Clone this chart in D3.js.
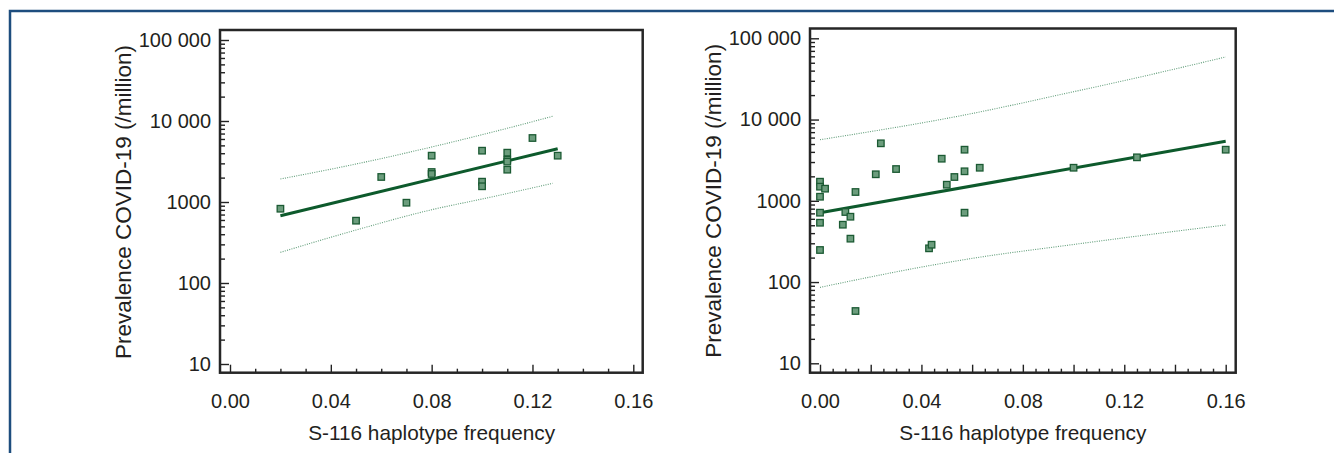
<!DOCTYPE html>
<html>
<head>
<meta charset="utf-8">
<script src="https://cdn.jsdelivr.net/npm/d3@7/dist/d3.min.js"></script>
<style>
  html, body { margin: 0; padding: 0; background: #fff; }
  svg { display: block; }
  text { font-family: "Liberation Sans", Arial, sans-serif; fill: #231f20; }
</style>
</head>
<body>
<svg id="chart" width="1334" height="453"></svg>
<script>
// ---------- DATA ----------
const xTickValues = [0, 0.04, 0.08, 0.12, 0.16];
const xTickLabels = ["0.00", "0.04", "0.08", "0.12", "0.16"];
const yTickValues = [10, 100, 1000, 10000, 100000];
const yTickLabels = ["10", "100", "1000", "10 000", "100 000"];
const xTitle = "S-116 haplotype frequency";
const yTitle = "Prevalence COVID-19 (/million)";

// left panel
const leftX = [0.02, 0.05, 0.06, 0.07, 0.08, 0.08, 0.08, 0.10, 0.10, 0.10, 0.11, 0.11, 0.11, 0.11, 0.12, 0.13];
const leftY = [826, 588, 2037, 980, 3733, 2345, 2218, 4300, 1782, 1563, 4064, 3326, 3150, 2506, 6166, 3733];
const leftFitX = [0.02, 0.13];
const leftFitY = [678, 4550];
const leftUpperX = [0.02, 0.05, 0.08, 0.11, 0.128];
const leftUpperY = [1923, 2945, 4775, 8130, 11430];
const leftLowerX = [0.02, 0.05, 0.08, 0.10, 0.128];
const leftLowerY = [239, 451, 803, 1089, 1702];

// right panel
const rightX = [0.024, 0.057, 0.048, 0.022, 0.030, 0.063, 0.057, 0.053, 0.050, 0.100, 0.125, 0.160,
                0, 0, 0.002, 0, 0.014, 0, 0.010, 0.012, 0, 0.009, 0.012, 0, 0.057, 0.043, 0.044, 0.014];
const rightY = [5100, 4256, 3297, 2120, 2460, 2552, 2307, 1963, 1578, 2552, 3428, 4256,
                1718, 1492, 1410, 1122, 1283, 714, 728, 637, 537, 508, 342, 248, 714, 260, 288, 44];
const rightFitX = [0, 0.16];
const rightFitY = [714, 5395];
const rightUpperX = [0, 0.057, 0.10, 0.125, 0.16];
const rightUpperY = [5650, 11380, 22000, 32700, 58900];
const rightLowerX = [0, 0.044, 0.057, 0.10, 0.125, 0.16];
const rightLowerY = [86, 161, 189, 290, 367, 504];

// ---------- LAYOUT ----------
const svg = d3.select("#chart");

// outer blue border (top + left)
svg.append("path")
  .attr("d", "M10,453 L10,11 L1334,11")
  .attr("fill", "none").attr("stroke", "#1d4d7e").attr("stroke-width", 2.5);

const panels = [
  { x: leftX, y: leftY, fitX: leftFitX, fitY: leftFitY, upX: leftUpperX, upY: leftUpperY, loX: leftLowerX, loY: leftLowerY,
    xr: [230, 633.3], yr: [364, 40], frame: { l: 220, r: 642.7, t: 30, b: 372.7 },
    xMinor: 0.01, xMid: null, titleX: 131 },
  { x: rightX, y: rightY, fitX: rightFitX, fitY: rightFitY, upX: rightUpperX, upY: rightUpperY, loX: rightLowerX, loY: rightLowerY,
    xr: [820, 1225.7], yr: [363.3, 38.3], frame: { l: 810, r: 1235.7, t: 28.5, b: 372.7 },
    xMinor: 0.005, xMid: 0.02, titleX: 721 }
];

panels.forEach(p => {
  const x = d3.scaleLinear().domain([0, 0.16]).range(p.xr);
  const y = d3.scaleLog().domain([10, 100000]).range(p.yr);
  const g = svg.append("g");
  const f = p.frame;

  // y minor ticks
  const yMinor = [];
  for (let d = 10; d < 100000; d *= 10) for (let k = 2; k <= 9; k++) yMinor.push(d * k);
  const yAxMinor = g.append("g").attr("transform", `translate(${f.l},0)`)
    .call(d3.axisLeft(y).tickValues(yMinor).tickSizeInner(-5).tickSizeOuter(0).tickFormat(""));
  const yAx = g.append("g").attr("transform", `translate(${f.l},0)`)
    .call(d3.axisLeft(y).tickValues(yTickValues).tickSizeInner(-9).tickSizeOuter(0).tickPadding(9)
      .tickFormat((d, i) => yTickLabels[i]));

  // x minor ticks
  const xMinorVals = d3.range(0, 0.1600001, p.xMinor).filter(v => Math.abs(v / 0.04 - Math.round(v / 0.04)) > 1e-6);
  const xMinorSmall = p.xMid ? xMinorVals.filter(v => Math.abs(v / p.xMid - Math.round(v / p.xMid)) > 1e-6) : xMinorVals;
  const xMidVals = p.xMid ? xMinorVals.filter(v => Math.abs(v / p.xMid - Math.round(v / p.xMid)) <= 1e-6) : [];
  const xAxMinor = g.append("g").attr("transform", `translate(0,${f.b})`)
    .call(d3.axisBottom(x).tickValues(xMinorSmall).tickSizeInner(-4).tickSizeOuter(0).tickFormat(""));
  const xAxMid = g.append("g").attr("transform", `translate(0,${f.b})`)
    .call(d3.axisBottom(x).tickValues(xMidVals).tickSizeInner(-8).tickSizeOuter(0).tickFormat(""));
  const xAx = g.append("g").attr("transform", `translate(0,${f.b})`)
    .call(d3.axisBottom(x).tickValues(xTickValues).tickSizeInner(-8).tickSizeOuter(0).tickPadding(21)
      .tickFormat((d, i) => xTickLabels[i]));

  [yAxMinor, yAx, xAxMinor, xAxMid, xAx].forEach(a => {
    a.select(".domain").remove();
    a.selectAll(".tick line").attr("stroke", "#222").attr("stroke-width", 1.4);
    a.selectAll(".tick text").style("font-family", '"Liberation Sans", Arial, sans-serif')
      .style("font-size", "20px").attr("fill", "#231f20");
  });

  // bands
  const lineGen = d3.line().x(d => x(d[0])).y(d => y(d[1])).curve(d3.curveMonotoneX);
  [[p.upX, p.upY], [p.loX, p.loY]].forEach(([bx, by]) => {
    g.append("path").datum(bx.map((v, i) => [v, by[i]]))
      .attr("d", lineGen).attr("fill", "none")
      .attr("stroke", "#5f9c78").attr("stroke-width", 1.1).attr("stroke-dasharray", "1,1.3");
  });

  // fit line
  g.append("path").datum(p.fitX.map((v, i) => [v, p.fitY[i]]))
    .attr("d", d3.line().x(d => x(d[0])).y(d => y(d[1])))
    .attr("fill", "none").attr("stroke", "#0d5a2c").attr("stroke-width", 3);

  // points
  const s = 6.5;
  g.selectAll("rect.pt").data(p.x.map((v, i) => [v, p.y[i]])).enter().append("rect")
    .attr("class", "pt")
    .attr("x", d => x(d[0]) - s / 2).attr("y", d => y(d[1]) - s / 2)
    .attr("width", s).attr("height", s)
    .attr("fill", "#6c9d7d").attr("stroke", "#1b5a33").attr("stroke-width", 1.3);

  // frame
  g.append("rect").attr("x", f.l).attr("y", f.t).attr("width", f.r - f.l).attr("height", f.b - f.t)
    .attr("fill", "none").attr("stroke", "#262626").attr("stroke-width", 2.5);

  // titles
  g.append("text").attr("x", (p.xr[0] + p.xr[1]) / 2).attr("y", 440).attr("text-anchor", "middle")
    .style("font-size", "20.8px").text(xTitle);
  const cy = (p.yr[0] + p.yr[1]) / 2;
  g.append("text").attr("transform", `translate(${p.titleX},${cy}) rotate(-90)`).attr("text-anchor", "middle")
    .style("font-size", "22.5px").text(yTitle);
});
</script>
</body>
</html>
